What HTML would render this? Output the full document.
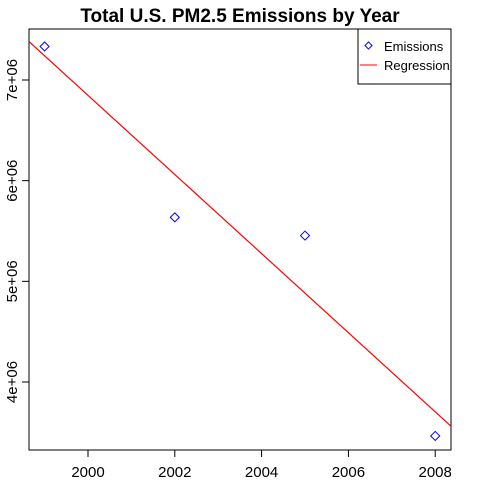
<!DOCTYPE html>
<html><head><meta charset="utf-8"><style>body{margin:0;background:#fff}svg{display:block}text{font-family:"Liberation Sans",Arial,sans-serif}</style></head>
<body>
<svg id="chart" width="480" height="480" viewBox="0 0 480 480">
<rect width="480" height="480" fill="#fff"/>
<text x="240" y="22" text-anchor="middle" font-size="19" font-weight="bold">Total U.S. PM2.5 Emissions by Year</text>
<rect x="29" y="29" width="422" height="421" fill="none" stroke="#000" stroke-width="1"/>
<g id="marks"></g>
<g>
<rect x="358" y="29" width="93" height="55" fill="#fff" stroke="#000"/>
<rect x="366" y="43" width="5" height="5" transform="rotate(45 368.5 45.5)" fill="none" stroke="#00f"/>
<text x="384" y="51" font-size="13">Emissions</text>
<line x1="360" y1="65" x2="377" y2="65" stroke="#f00"/>
<text x="384" y="70" font-size="13">Regression</text>
</g>
</svg>
<script>
const years = [1999, 2002, 2005, 2008];
const emissions = [7332967, 5635780, 5454703, 3464206];
const xTicks = [2000, 2002, 2004, 2006, 2008];
const yTicks = [4000000, 5000000, 6000000, 7000000];
const yTickLabels = ["4e+06", "5e+06", "6e+06", "7e+06"];

const L=29,R=451,T=29,B=450;
const xs=v=>88+(v-2000)*43.4;
const ys=v=>80+(7e6-v)*100.67e-6;
const NS="http://www.w3.org/2000/svg";
const g=document.getElementById('marks');
function mk(tag,attrs){const e=document.createElementNS(NS,tag);for(const k in attrs)e.setAttribute(k,attrs[k]);g.appendChild(e);return e;}
xTicks.forEach(t=>{
 const l=mk('line',{x1:xs(t),x2:xs(t),y1:B,y2:B+7,stroke:'#000'});
 
 
 const tx=mk('text',{x:xs(t),y:477,'text-anchor':'middle','font-size':'15'});tx.textContent=t;
 
 
});
yTicks.forEach((t,i)=>{
 const y=ys(t);
 const l=mk('line',{x1:L-7,x2:L,y1:y,y2:y,stroke:'#000'});
 
 
 const tx=mk('text',{x:17,y:y,'text-anchor':'middle','font-size':'15',transform:`rotate(-90 17 ${y})`});tx.textContent=yTickLabels[i];
 
 
});
// regression
const n=years.length,mx=years.reduce((a,b)=>a+b)/n,my=emissions.reduce((a,b)=>a+b)/n;
let sxy=0,sxx=0;years.forEach((x,i)=>{sxy+=(x-mx)*(emissions[i]-my);sxx+=(x-mx)**2;});
const slope=sxy/sxx,icpt=my-slope*mx;
const x0=2000+(L-88)/43.4,x1=2000+(R-88)/43.4;
const cp=document.createElementNS(NS,'clipPath');cp.id='clip';
const cr=document.createElementNS(NS,'rect');cr.setAttribute('x',L);cr.setAttribute('y',T);cr.setAttribute('width',R-L);cr.setAttribute('height',B-T);cp.appendChild(cr);g.appendChild(cp);
const rl=mk('line',{x1:xs(x0),y1:ys(icpt+slope*x0),x2:xs(x1),y2:ys(icpt+slope*x1),stroke:'#f00','stroke-width':'1.2','clip-path':'url(#clip)'});


years.forEach((yr,i)=>{
 const cx=xs(yr),cy=ys(emissions[i]);
 const p=mk('polygon',{points:`${cx},${cy-4.5} ${cx+4.5},${cy} ${cx},${cy+4.5} ${cx-4.5},${cy}`,fill:'none',stroke:'#00f'});
 
 
});
</script>
</body></html>
